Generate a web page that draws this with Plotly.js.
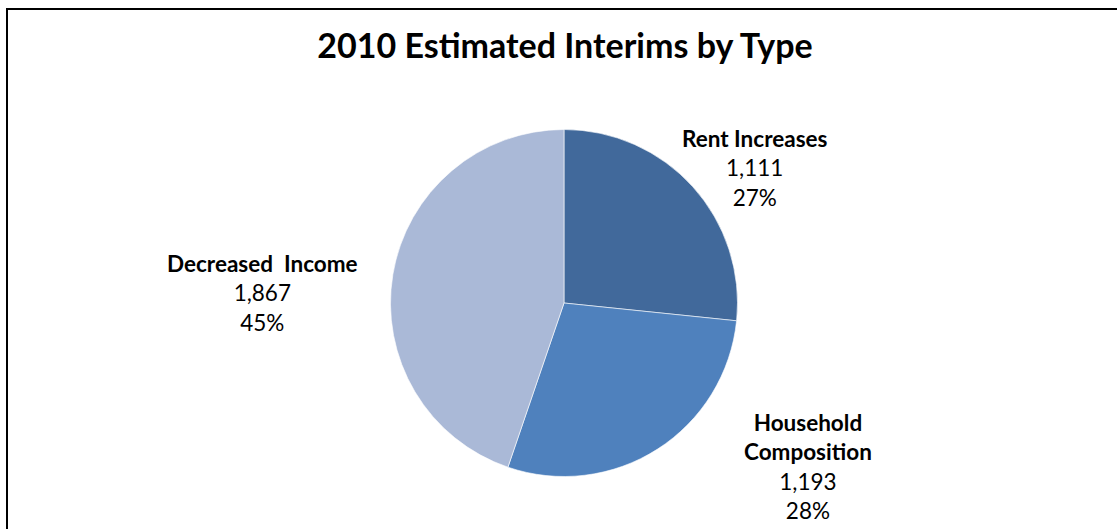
<!DOCTYPE html>
<html>
<head>
<meta charset="utf-8">
<script src="https://cdn.plot.ly/plotly-3.0.1.min.js"></script>
<style>
  html, body { margin: 0; padding: 0; background: #ffffff; }
  #chart { width: 1117px; height: 529px; }
</style>
</head>
<body>
<div id="chart"></div>
<script>
// ---- data ----
const categories = ["Rent Increases", "Household Composition", "Decreased Income"];
const labelLines = ["Rent Increases", "Household<br>Composition", "Decreased&nbsp;&nbsp;Income"];
const values = [1111, 1193, 1867];
const valueLabels = ["1,111", "1,193", "1,867"];
const percentLabels = ["27%", "28%", "45%"];
const colors = ["#41699B", "#4F81BD", "#AAB9D7"];

const W = 1117, H = 529;
const FONT = "Lato, 'Open Sans', 'DejaVu Sans', sans-serif";

// label block centres in pixels (layout only)
const labelPos = [
  {x: 755, y: 168},
  {x: 808, y: 466},
  {x: 262, y: 293}
];

const cx = 564, cy = 303, r = 173.5;

const trace = {
  type: "pie",
  labels: categories,
  values: values,
  sort: false,
  direction: "clockwise",
  rotation: 0,
  textinfo: "none",
  hoverinfo: "none",
  marker: { colors: colors, line: { color: "#ffffff", width: 0.6 } },
  domain: {
    x: [(cx - r) / W, (cx + r) / W],
    y: [1 - (cy + r) / H, 1 - (cy - r) / H]
  },
  showlegend: false
};

const annotations = categories.map((c, i) => ({
  xref: "paper", yref: "paper",
  x: labelPos[i].x / W, y: 1 - labelPos[i].y / H,
  xanchor: "center", yanchor: "middle",
  showarrow: false,
  align: "center",
  text: "<b>" + labelLines[i] + "</b><br>" + valueLabels[i] + "<br>" + percentLabels[i],
  font: { family: FONT, size: 22.5, color: "#000000" }
}));

const layout = {
  width: W, height: H,
  margin: { l: 0, r: 0, t: 0, b: 0 },
  paper_bgcolor: "#ffffff",
  plot_bgcolor: "#ffffff",
  title: {
    text: "<b>2010 Estimated Interims by Type</b>",
    x: 565 / W, xanchor: "center",
    y: 1 - 46 / H, yanchor: "middle",
    xref: "paper", yref: "container",
    font: { family: FONT, size: 34, color: "#000000" }
  },
  annotations: annotations,
  shapes: [{
    type: "rect", xref: "paper", yref: "paper",
    x0: 7 / W, y0: 1 - 9 / H, x1: 1.05, y1: -0.05,
    line: { color: "#000000", width: 2 }, fillcolor: "rgba(0,0,0,0)"
  }]
};

Plotly.newPlot("chart", [trace], layout, { displayModeBar: false, staticPlot: true });
</script>
</body>
</html>
